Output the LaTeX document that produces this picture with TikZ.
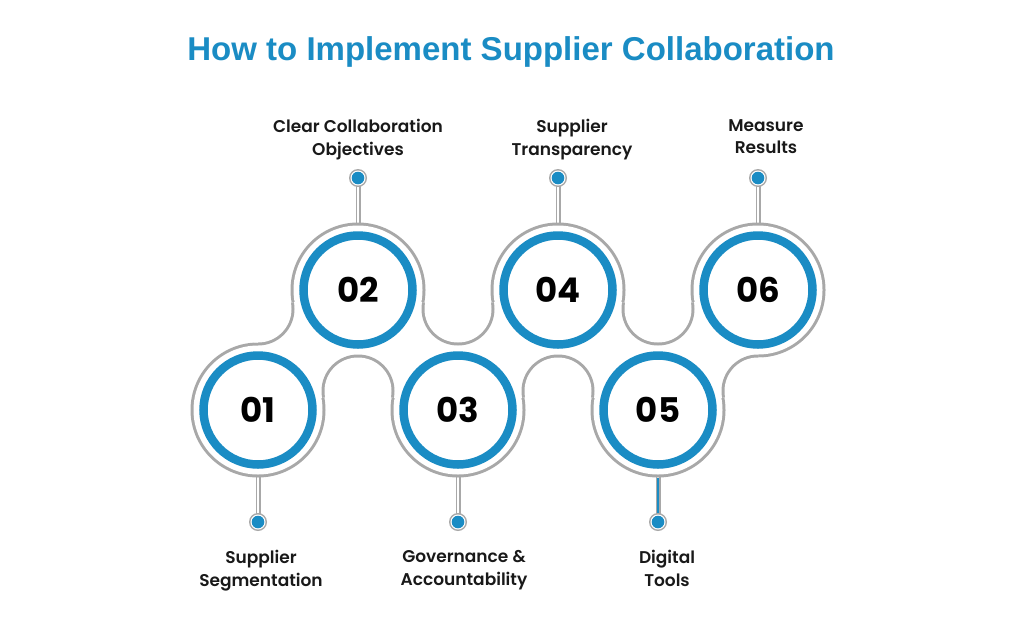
\documentclass[tikz,border=0pt]{standalone}
\usepackage{fontspec}
\setmainfont{Liberation Sans}
\newfontfamily\numf{Poppins}
\newfontfamily\labf{Poppins SemiBold}
\definecolor{cblue}{HTML}{1A8CC4}
\definecolor{cgrey}{HTML}{A8A8A8}
\begin{document}
\begin{tikzpicture}[x=1pt,y=-1pt,
  lab/.style={font=\labf\fontsize{17}{22.5}\selectfont,align=center,text=black!90,anchor=north},
  num/.style={font=\numf\bfseries\fontsize{34}{34}\selectfont},
  ring/.style={draw=cblue,line width=8.5pt}]
\useasboundingbox (0,0) rectangle (1024,627);
\fill[white] (0,0) rectangle (1024,627);
\def\cc{(258,410),(358,290),(458,410),(558,290),(658,410),(758,290)}
\def\quads{
 (258,410)--(358,391)--(358,290)--(258,309)--cycle
 (358,290)--(358,391)--(458,410)--(458,309)--cycle
 (458,410)--(558,391)--(558,290)--(458,309)--cycle
 (558,290)--(558,391)--(658,410)--(658,309)--cycle
 (658,410)--(758,391)--(758,290)--(658,309)--cycle}
\foreach \x/\ya/\yb in {358/224/186,558/224/186,758/224/186,258/476/514,458/476/514,658/476/514}{
  \draw[cgrey,line width=5pt] (\x,\ya)--(\x,\yb);
  \draw[white,line width=2pt] (\x,\ya)--(\x,\yb);}
\draw[cblue,line width=2pt] (658,478)--(658,514);
\fill[cgrey] \quads;
\foreach \p in \cc \fill[cgrey] \p circle (67.5);
\fill[white] \quads;
\foreach \p in \cc \fill[white] \p circle (64.5);
\begin{scope}
 \clip \quads;
 \foreach \p in {(258,309),(458,309),(658,309),(358,391),(558,391),(758,391)} \fill[cgrey] \p circle (36.5);
\end{scope}
\foreach \p in {(258,309),(458,309),(658,309),(358,391),(558,391),(758,391)} \fill[white] \p circle (33.5);
\foreach \p/\n/\t in {(258,410)/c1/01,(358,290)/c2/02,(458,410)/c3/03,(558,290)/c4/04,(658,410)/c5/05,(758,290)/c6/06}{
  \draw[ring] \p circle (54.5);
  \node[num] (\n) at \p {\t};}
\foreach \x/\y/\n in {358/178/d2,558/178/d4,758/178/d6,258/522/d1,458/522/d3,658/522/d5}{
  \fill[cgrey] (\x,\y) circle (9);
  \fill[white] (\x,\y) circle (7.5);
  \fill[cblue] (\x,\y) circle (6.3);
  \coordinate (\n) at (\x,\y);}
\node[lab] (l2) at (358,116) {Clear Collaboration\\Objectives};
\node[lab] (l4) at (572,116) {Supplier\\Transparency};
\node[lab] (l6) at (766,116) {Measure\\Results};
\node[lab] (l1) at (261,547) {Supplier\\Segmentation};
\node[lab] (l3) at (464,547) {Governance \&\\Accountability};
\node[lab] (l5) at (667,547) {Digital\\Tools};
\node[font=\bfseries\fontsize{33}{33}\selectfont,text=cblue] (title) at (511,52) {How to Implement Supplier Collaboration};
\end{tikzpicture}
\end{document}
